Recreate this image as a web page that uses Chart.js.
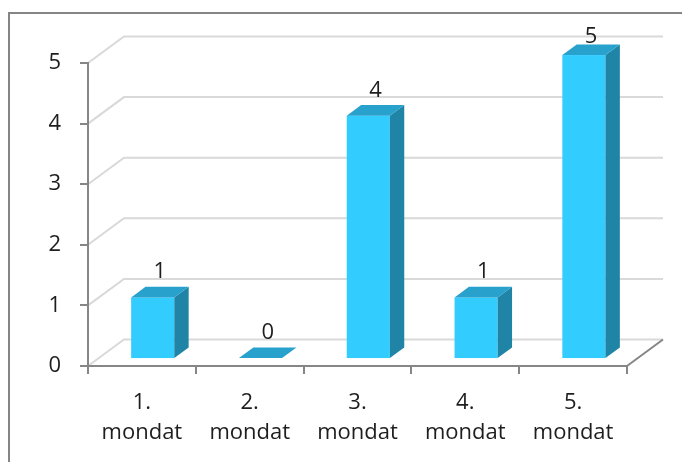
<!DOCTYPE html>
<html>
<head>
<meta charset="utf-8">
<script src="https://cdn.jsdelivr.net/npm/chart.js@4"></script>
<style>
  html, body { margin: 0; padding: 0; background: #ffffff; overflow: hidden; }
  #wrap { width: 682px; height: 462px; }
</style>
</head>
<body>
<div id="wrap"><canvas id="chart" width="682" height="462"></canvas></div>
<script>
// Categories (two-line labels) and values
const categories = [
  ['1.', 'mondat'],
  ['2.', 'mondat'],
  ['3.', 'mondat'],
  ['4.', 'mondat'],
  ['5.', 'mondat']
];
const values = [1, 0, 4, 1, 5];
const yMin = 0;
const yMax = 5;
const yStep = 1;

// 3D look: offset of the back wall and depth span of the bars
const DEPTH_DX = 36;
const DEPTH_DY = -26.5;
const BAR_FRONT = 0.3;
const BAR_BACK = 0.7;

const COLORS = {
  front: '#33CCFF',
  side: '#1F84A6',
  top: '#28A1CC',
  grid: '#D9D9D9',
  axis: '#868686',
  frame: '#858585',
  text: '#1E1E1E'
};
const FONT = { family: "'Open Sans', 'Noto Sans', sans-serif", size: 22 };

const threeD = {
  id: 'threeD',
  beforeDraw(chart) {
    const { ctx, chartArea: a, scales: { y } } = chart;
    ctx.save();
    ctx.fillStyle = '#ffffff';
    ctx.fillRect(0, 0, chart.width, chart.height);

    // outer frame (left and top edges)
    ctx.strokeStyle = COLORS.frame;
    ctx.lineWidth = 2;
    ctx.beginPath();
    ctx.moveTo(9, chart.height + 5);
    ctx.lineTo(9, 13);
    ctx.lineTo(chart.width + 5, 13);
    ctx.stroke();

    // side wall + back wall gridlines
    ctx.strokeStyle = COLORS.grid;
    ctx.lineWidth = 2;
    y.ticks.forEach(t => {
      const py = y.getPixelForValue(t.value);
      ctx.beginPath();
      ctx.moveTo(a.left, py);
      ctx.lineTo(a.left + DEPTH_DX, py + DEPTH_DY);
      ctx.lineTo(a.right + DEPTH_DX, py + DEPTH_DY);
      ctx.stroke();
    });

    // right edge of the floor
    ctx.strokeStyle = COLORS.axis;
    ctx.beginPath();
    ctx.moveTo(a.right, a.bottom);
    ctx.lineTo(a.right + DEPTH_DX, a.bottom + DEPTH_DY);
    ctx.stroke();
    ctx.restore();
  },
  afterDatasetsDraw(chart) {
    const { ctx, chartArea: a, scales: { y } } = chart;
    const meta = chart.getDatasetMeta(0);
    const ds = chart.data.datasets[0];
    const fx = DEPTH_DX * BAR_FRONT, fy = DEPTH_DY * BAR_FRONT;
    const bx = DEPTH_DX * BAR_BACK, by = DEPTH_DY * BAR_BACK;
    const ddx = bx - fx, ddy = by - fy;

    ctx.save();
    meta.data.forEach((el, i) => {
      const v = ds.data[i];
      const w = el.width;
      const left = el.x - w / 2 + fx;
      const right = el.x + w / 2 + fx;
      const yTop = y.getPixelForValue(v) + fy;
      const yBase = y.getPixelForValue(yMin) + fy;

      if (yBase - yTop > 0.5) {
        // front face
        ctx.fillStyle = COLORS.front;
        ctx.fillRect(left, yTop, right - left, yBase - yTop);
        // side face
        ctx.fillStyle = COLORS.side;
        ctx.beginPath();
        ctx.moveTo(right, yTop);
        ctx.lineTo(right + ddx, yTop + ddy);
        ctx.lineTo(right + ddx, yBase + ddy);
        ctx.lineTo(right, yBase);
        ctx.closePath();
        ctx.fill();
      }
      // top face
      ctx.fillStyle = COLORS.top;
      ctx.beginPath();
      ctx.moveTo(left, yTop);
      ctx.lineTo(right, yTop);
      ctx.lineTo(right + ddx, yTop + ddy);
      ctx.lineTo(left + ddx, yTop + ddy);
      ctx.closePath();
      ctx.fill();

      // value label above the top face, kept inside the frame
      ctx.fillStyle = COLORS.text;
      ctx.font = FONT.size + 'px ' + FONT.family;
      ctx.textAlign = 'center';
      ctx.textBaseline = 'alphabetic';
      const lx = el.x + (fx + bx) / 2;
      const ly = Math.max(yTop + ddy - 8.5, a.top - 20);
      ctx.fillText(String(v), lx, ly);
    });
    ctx.restore();
  }
};

new Chart(document.getElementById('chart'), {
  type: 'bar',
  data: {
    labels: categories,
    datasets: [{
      data: values,
      backgroundColor: 'rgba(0,0,0,0)',
      borderWidth: 0,
      barPercentage: 0.4,
      categoryPercentage: 1.0
    }]
  },
  options: {
    responsive: false,
    animation: false,
    devicePixelRatio: 1,
    layout: { padding: { left: 0, top: 63, right: 55, bottom: 0 } },
    plugins: {
      legend: { display: false },
      tooltip: { enabled: false }
    },
    scales: {
      x: {
        grid: {
          offset: true,
          drawOnChartArea: false,
          drawTicks: true,
          tickLength: 8,
          color: COLORS.axis,
          lineWidth: 2
        },
        border: { display: true, color: COLORS.axis, width: 2 },
        ticks: {
          color: COLORS.text,
          font: { family: FONT.family, size: FONT.size, lineHeight: 1.36 },
          padding: 14,
          maxRotation: 0,
          autoSkip: false
        },
        afterFit(scale) { scale.height = 96; }
      },
      y: {
        min: yMin,
        max: yMax,
        ticks: {
          stepSize: yStep,
          color: COLORS.text,
          font: { family: FONT.family, size: FONT.size },
          padding: 19
        },
        grid: {
          drawOnChartArea: false,
          drawTicks: true,
          tickLength: 8,
          color: COLORS.axis,
          lineWidth: 2
        },
        border: { display: true, color: COLORS.axis, width: 2 },
        afterFit(scale) { scale.width = 88; }
      }
    }
  },
  plugins: [threeD]
});
</script>
</body>
</html>
